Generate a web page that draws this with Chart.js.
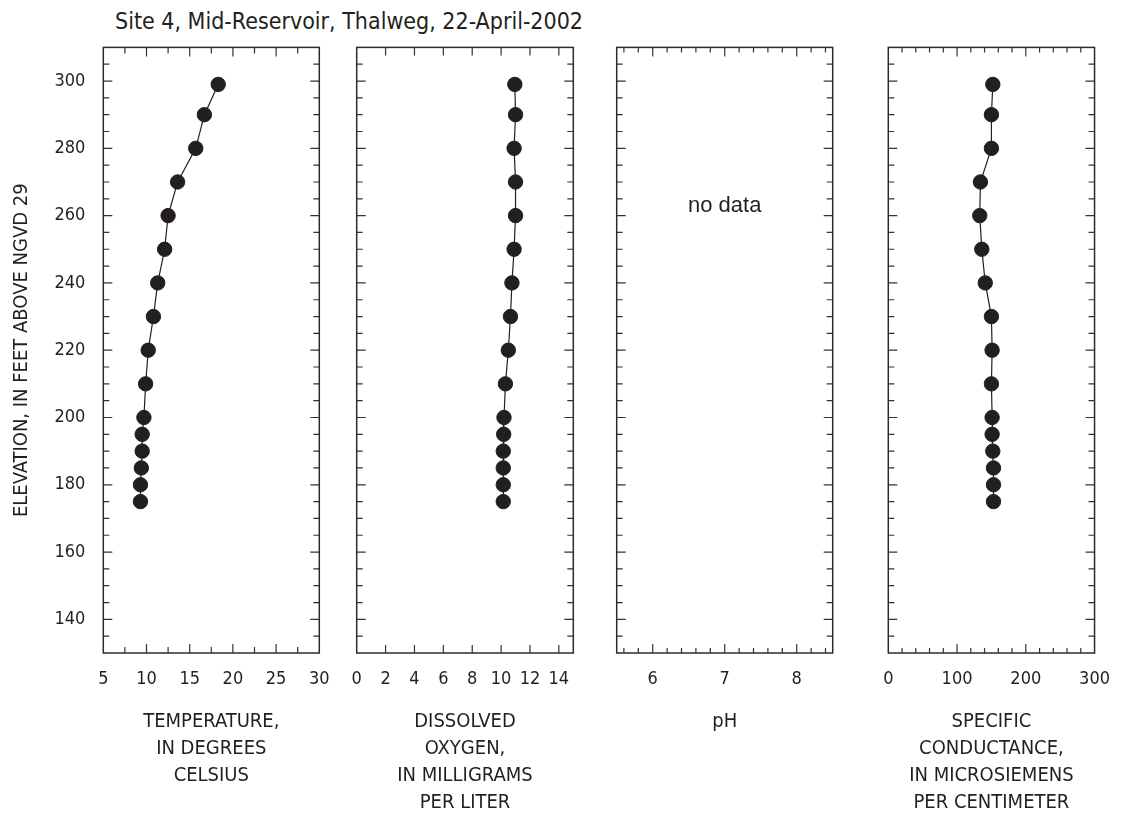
<!DOCTYPE html>
<html>
<head>
<meta charset="utf-8">
<script src="https://cdn.jsdelivr.net/npm/chart.js@4.4.1/dist/chart.umd.min.js"></script>
<style>
    html, body { margin: 0; padding: 0; background: #fff; }
    #wrap { position: relative; width: 1126px; height: 816px; overflow: hidden; }
    #wrap canvas { position: absolute; left: 0; top: 0; }
    #site-title {
        position: absolute; left: 115px; top: 9px;
        font-family: "Liberation Sans Narrow", "DejaVu Sans Condensed", Arial, sans-serif;
        font-size: 23px; line-height: 24px; color: #231f20; white-space: nowrap;
    }
</style>
</head>
<body>
<div id="wrap">
    <div id="site-title">Site 4, Mid-Reservoir, Thalweg, 22-April-2002</div>
    <canvas id="temp-chart" width="1126" height="816"></canvas>
    <canvas id="do-chart" width="1126" height="816"></canvas>
    <canvas id="ph-chart" width="1126" height="816"></canvas>
    <canvas id="sc-chart" width="1126" height="816"></canvas>
</div>
<script>
// profile data
const elevationFeet = [299, 290, 280, 270, 260, 250, 240, 230, 220, 210, 200, 195, 190, 185, 180, 175];
const temperatureC = [18.3, 16.7, 15.7, 13.6, 12.5, 12.1, 11.3, 10.8, 10.2, 9.9, 9.7, 9.5, 9.5, 9.4, 9.3, 9.3];
const dissolvedOxygen = [10.95, 11.0, 10.9, 11.0, 11.0, 10.9, 10.75, 10.65, 10.5, 10.3, 10.2, 10.18, 10.15, 10.15, 10.15, 10.15];
const phValues = []; // no data
const specificConductance = [152, 150, 150, 134, 133, 136, 141, 150, 151, 150, 151, 151, 152, 153, 153, 153];

// tick labels
const elevationTickLabels = [140, 160, 180, 200, 220, 240, 260, 280, 300];
const tempTickLabels = [5, 10, 15, 20, 25, 30];
const doTickLabels = [0, 2, 4, 6, 8, 10, 12, 14];
const phTickLabels = [6, 7, 8];
const scTickLabels = [0, 100, 200, 300];

const FONT = '"Liberation Sans Narrow", "DejaVu Sans Condensed", Arial, sans-serif';
const INK = '#231f20';

function tickSteps(min, max, step) {
    const out = [];
    let i = Math.ceil(min / step - 1e-9);
    while (true) {
        const v = Math.round(i * step * 1000) / 1000;
        if (v >= max - 1e-9) break;
        if (v > min + 1e-9) out.push(v);
        i++;
    }
    return out;
}

// frame + inward tick marks on all four sides
const frameTicksPlugin = {
    id: 'frameTicks',
    beforeDatasetsDraw(chart, args, opts) {
        const { ctx, chartArea: { left, right, top, bottom }, scales: { x, y } } = chart;
        const isMajor = (list, v) => list.some(m => Math.abs(m - v) < 1e-6);
        ctx.save();
        ctx.strokeStyle = '#333';
        ctx.lineWidth = 1.2;
        ctx.beginPath();
        tickSteps(x.min, x.max, opts.xStep).forEach(v => {
            const px = x.getPixelForValue(v);
            const len = isMajor(opts.xMajor, v) ? opts.majorLen : opts.minorLen;
            ctx.moveTo(px, bottom); ctx.lineTo(px, bottom - len);
            ctx.moveTo(px, top); ctx.lineTo(px, top + len);
        });
        tickSteps(y.min, y.max, 5).forEach(v => {
            const py = y.getPixelForValue(v);
            const len = isMajor(elevationTickLabels, v) ? 9 : 6;
            ctx.moveTo(left, py); ctx.lineTo(left + len, py);
            ctx.moveTo(right, py); ctx.lineTo(right - len, py);
        });
        ctx.stroke();
        ctx.lineWidth = 1.5;
        ctx.strokeStyle = '#2b2b2b';
        ctx.strokeRect(left, top, right - left, bottom - top);
        if (opts.note) {
            ctx.fillStyle = INK;
            ctx.font = '22px "Liberation Sans", Arial, sans-serif';
            ctx.textAlign = 'center';
            ctx.textBaseline = 'middle';
            ctx.fillText(opts.note.text, x.getPixelForValue(opts.note.x), y.getPixelForValue(opts.note.y));
        }
        ctx.restore();
    }
};

function renderProfileChart(cfg) {
    const ctx = document.getElementById(cfg.id);
    new Chart(ctx, {
        type: 'scatter',
        data: {
            datasets: [{
                data: cfg.values.map((v, i) => ({ x: v, y: elevationFeet[i] })),
                showLine: true,
                borderColor: INK,
                borderWidth: 1.2,
                backgroundColor: INK,
                pointBackgroundColor: INK,
                pointBorderColor: INK,
                pointBorderWidth: 1,
                pointRadius: 7.2,
                tension: 0
            }]
        },
        plugins: [frameTicksPlugin],
        options: {
            responsive: false,
            animation: false,
            layout: {
                padding: { left: cfg.showY ? 0 : cfg.left, right: 1126 - cfg.right, top: 47.4, bottom: 0 }
            },
            scales: {
                x: {
                    type: 'linear',
                    position: 'bottom',
                    min: cfg.min,
                    max: cfg.max,
                    afterBuildTicks: s => { s.ticks = cfg.labels.map(v => ({ value: v })); },
                    afterFit: s => { s.height = 163; },
                    grid: { display: false, drawTicks: false },
                    border: { display: false },
                    ticks: {
                        autoSkip: false,
                        maxRotation: 0,
                        padding: 16,
                        color: INK,
                        font: { family: FONT, size: 18 },
                        callback: v => String(v)
                    },
                    title: {
                        display: true,
                        text: cfg.title,
                        color: INK,
                        padding: { top: 0, bottom: 0 },
                        font: { family: FONT, size: 20, lineHeight: 1.35 }
                    }
                },
                y: {
                    type: 'linear',
                    display: cfg.showY,
                    min: 130,
                    max: 310,
                    afterBuildTicks: s => { s.ticks = elevationTickLabels.map(v => ({ value: v })); },
                    afterFit: s => { if (cfg.showY) s.width = cfg.left; },
                    grid: { display: false, drawTicks: false },
                    border: { display: false },
                    ticks: {
                        padding: 18,
                        color: INK,
                        font: { family: FONT, size: 18 },
                        callback: v => String(v)
                    },
                    title: {
                        display: true,
                        text: 'ELEVATION, IN FEET ABOVE NGVD 29',
                        color: INK,
                        padding: { top: 10, bottom: 0 },
                        font: { family: FONT, size: 20 }
                    }
                }
            },
            plugins: {
                legend: { display: false },
                tooltip: { enabled: false },
                frameTicks: {
                    xStep: cfg.xStep,
                    xMajor: cfg.xMajor,
                    majorLen: cfg.majorLen,
                    minorLen: cfg.minorLen,
                    note: cfg.note || null
                }
            }
        }
    });
}

renderProfileChart({
    id: 'temp-chart', values: temperatureC, min: 5, max: 30, labels: tempTickLabels,
    xStep: 2.5, xMajor: tempTickLabels, majorLen: 9, minorLen: 6,
    title: ['TEMPERATURE,', 'IN DEGREES', 'CELSIUS', ''],
    left: 103.3, right: 319.3, showY: true
});
renderProfileChart({
    id: 'do-chart', values: dissolvedOxygen, min: 0, max: 15, labels: doTickLabels,
    xStep: 2, xMajor: doTickLabels, majorLen: 8, minorLen: 8,
    title: ['DISSOLVED', 'OXYGEN,', 'IN MILLIGRAMS', 'PER LITER'],
    left: 356.7, right: 573.3, showY: false
});
renderProfileChart({
    id: 'ph-chart', values: phValues, min: 5.5, max: 8.5, labels: phTickLabels,
    xStep: 0.2, xMajor: phTickLabels, majorLen: 9, minorLen: 5,
    title: ['pH', '', '', ''],
    left: 616.7, right: 832.7, showY: false,
    note: { text: 'no data', x: 7, y: 263 }
});
renderProfileChart({
    id: 'sc-chart', values: specificConductance, min: 0, max: 300, labels: scTickLabels,
    xStep: 20, xMajor: scTickLabels, majorLen: 9, minorLen: 5,
    title: ['SPECIFIC', 'CONDUCTANCE,', 'IN MICROSIEMENS', 'PER CENTIMETER'],
    left: 888.3, right: 1104.3, showY: false
});
</script>
</body>
</html>
